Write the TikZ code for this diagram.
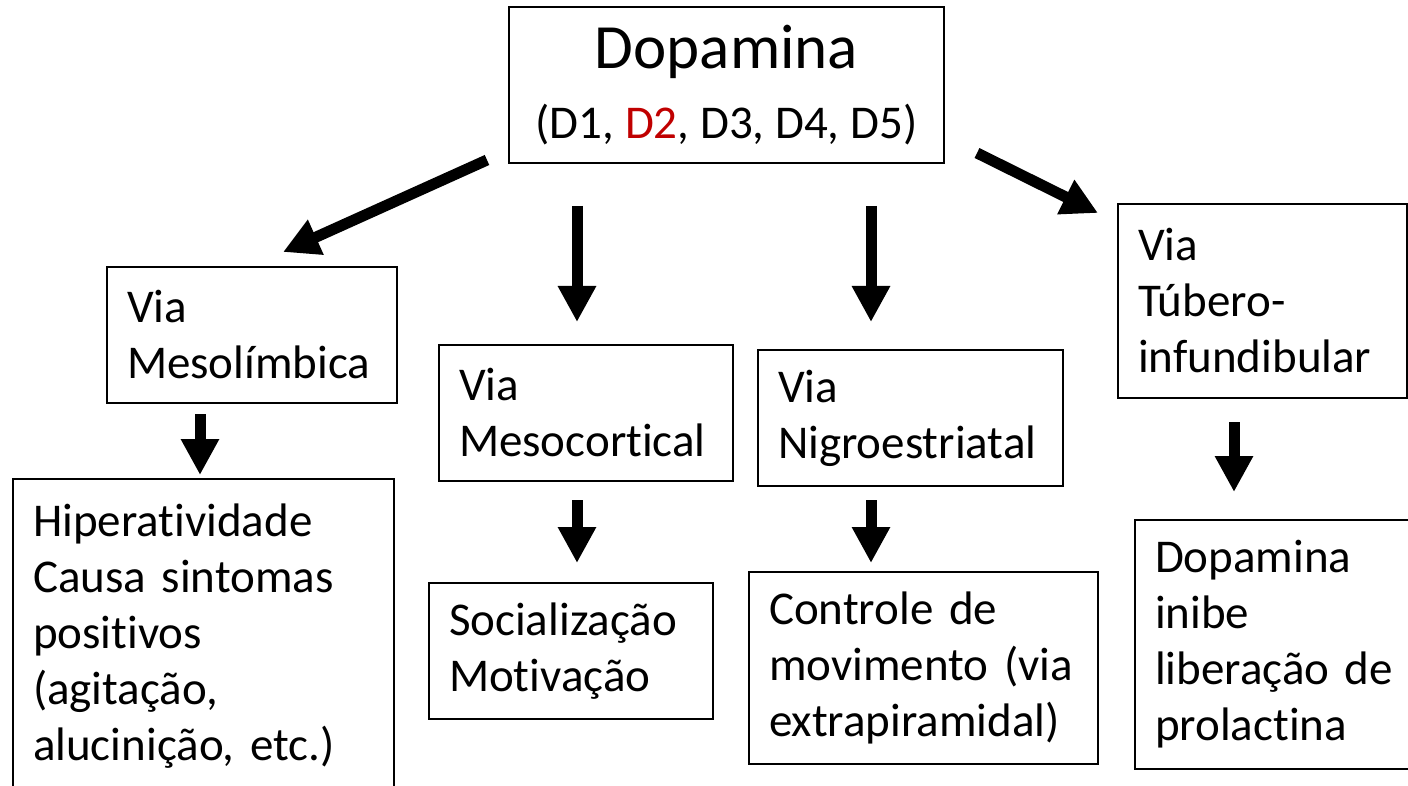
\documentclass[tikz,border=0pt]{standalone}
\usepackage{fontspec}
\setmainfont{Carlito}[Ligatures=NoCommon]
\usetikzlibrary{arrows.meta}
\definecolor{dred}{HTML}{C00000}

\begin{document}
\begin{tikzpicture}[
  x=1pt, y=-1pt,
  box/.style={draw, line width=2pt, align=left, anchor=north west,
              inner xsep=20pt, inner ysep=0pt, font=\fontsize{47}{56}\selectfont},
  headbox/.style={draw, line width=2pt, align=center, minimum width=435pt,
                  minimum height=156pt, font=\fontsize{47}{68}\selectfont},
  arr/.style={line width=11pt, -{Triangle[width=36pt,length=36pt]}}
]
\clip (0,0) rectangle (1408,786);
\node[headbox] (dop) at (726.5,85) {{\fontsize{63}{68}\selectfont Dopamina}\\[2pt](D1, \textcolor{dred}{D2}, D3, D4, D5)};
\node[box, text width=250pt, minimum height=136pt] (meso) at (106,266) {Via\\Mesolímbica};
\node[box, text width=341pt, minimum height=314pt] (hiper) at (12,478) {Hiperatividade\\Causa sintomas\\positivos\\(agitação,\\alucinição, etc.)};
\node[box, text width=254pt, minimum height=136pt] (cort) at (438,344) {Via\\Mesocortical};
\node[box, text width=244pt, minimum height=136pt] (soc) at (428,582) {Socialização\\Motivação};
\node[box, text width=265pt, minimum height=136pt] (nigro) at (757,349) {Via\\Nigroestriatal};
\node[box, text width=309pt, minimum height=192pt] (ctrl) at (748,571) {Controle de\\movimento (via\\extrapiramidal)};
\node[box, text width=249pt, minimum height=194pt] (tub) at (1117,203) {Via\\Túbero-\\infundibular};
\node[box, text width=250pt, minimum height=249pt] (prl) at (1134,519) {Dopamina\\inibe\\liberação de\\prolactina};
% free ends of the slanted arrows
\coordinate (ltail) at (487,160);
\coordinate (lhead) at (283,252);
\coordinate (rtail) at (977,153);
\coordinate (rhead) at (1098,213);
\draw[arr] (ltail) -- (lhead);
\draw[arr] (rtail) -- (rhead);
\draw[arr, shorten <=42pt, shorten >=22pt] (dop.south -| 577,0) -- (cort.north -| 577,0);
\draw[arr, shorten <=42pt, shorten >=27pt] (dop.south -| 871,0) -- (nigro.north -| 871,0);
\draw[arr, shorten <=10pt, shorten >=3pt] (meso.south -| 200,0) -- (hiper.north -| 200,0);
\draw[arr, shorten <=18pt, shorten >=19pt] (cort.south -| 577,0) -- (soc.north -| 577,0);
\draw[arr, shorten <=13pt, shorten >=8pt] (nigro.south -| 871,0) -- (ctrl.north -| 871,0);
\draw[arr, shorten <=23pt, shorten >=27pt] (tub.south -| 1234,0) -- (prl.north -| 1234,0);
\end{tikzpicture}
\end{document}
